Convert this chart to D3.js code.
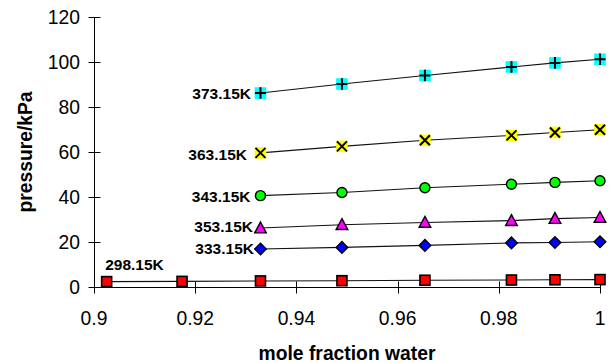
<!DOCTYPE html>
<html>
<head>
<meta charset="utf-8">
<script src="https://cdn.jsdelivr.net/npm/d3@7"></script>
<style>
  html, body { margin: 0; padding: 0; background: #fff; }
  svg { display: block; font-family: "Liberation Sans", Arial, sans-serif; }
</style>
</head>
<body>
<svg id="chart" width="616" height="363"></svg>
<script>
// Vapour pressure vs mole fraction of water at several temperatures
const moleFraction = [0.9025, 0.9174, 0.9329, 0.9490, 0.9654, 0.9825, 0.9911, 1.0];
const moleFractionHot = moleFraction.slice(2);

const p298 = [2.4, 2.5, 2.7, 2.8, 3.0, 3.1, 3.2, 3.3];
const p333 = [16.9, 17.6, 18.5, 19.6, 19.8, 20.1];
const p353 = [26.2, 27.7, 28.7, 29.5, 30.4, 30.9];
const p343 = [40.6, 42.0, 44.1, 45.7, 46.5, 47.2];
const p363 = [59.6, 62.5, 65.2, 67.4, 68.7, 69.9];
const p373 = [86.2, 90.2, 94.0, 97.8, 99.6, 101.2];

const seriesLabels = ["298.15K", "333.15K", "353.15K", "343.15K", "363.15K", "373.15K"];

const xTicks = [0.9, 0.92, 0.94, 0.96, 0.98, 1];
const yTicks = [0, 20, 40, 60, 80, 100, 120];

const series = [
  { label: seriesLabels[0], x: moleFraction,    y: p298, marker: "square",   fill: "#ff0000" },
  { label: seriesLabels[1], x: moleFractionHot, y: p333, marker: "diamond",  fill: "#0000ff" },
  { label: seriesLabels[2], x: moleFractionHot, y: p353, marker: "triangle", fill: "#ff00ff" },
  { label: seriesLabels[3], x: moleFractionHot, y: p343, marker: "circle",   fill: "#00ff00" },
  { label: seriesLabels[4], x: moleFractionHot, y: p363, marker: "cross",    fill: "#ffff00" },
  { label: seriesLabels[5], x: moleFractionHot, y: p373, marker: "plus",     fill: "#00ffff" }
];

// label placement relative to the first point of each series
const labelPlacement = {
  "298.15K": { anchor: "start", dx: -1.5, dy: -17 },
  "333.15K": { anchor: "end",   dx: -6.5, dy: 0 },
  "353.15K": { anchor: "end",   dx: -7.5, dy: -1.5 },
  "343.15K": { anchor: "end",   dx: -10,  dy: 1.3 },
  "363.15K": { anchor: "end",   dx: -13.5, dy: 1.7 },
  "373.15K": { anchor: "end",   dx: -9.5, dy: 0 }
};

const svg = d3.select("#chart");

const x = d3.scaleLinear().domain([0.9, 1]).range([94, 600]);
const y = d3.scaleLinear().domain([0, 120]).range([287, 17]);

const axisColor = "#000";

// y axis with ticks crossing the line
const yAxis = svg.append("g").attr("transform", "translate(94.5,0)");
yAxis.append("line")
  .attr("x1", 0).attr("x2", 0)
  .attr("y1", y(120)).attr("y2", y(0))
  .attr("stroke", axisColor).attr("stroke-width", 1);
yAxis.selectAll("line.tick").data(yTicks).join("line")
  .attr("class", "tick")
  .attr("x1", -6).attr("x2", 6)
  .attr("y1", d => Math.round(y(d)) + 0.5).attr("y2", d => Math.round(y(d)) + 0.5)
  .attr("stroke", axisColor).attr("stroke-width", 1);
yAxis.selectAll("text").data(yTicks).join("text")
  .attr("x", -14.5)
  .attr("y", d => y(d) + 6.8)
  .attr("text-anchor", "end")
  .attr("font-size", "19.3px")
  .attr("fill", "#000")
  .text(d => d3.format("d")(d));

// x axis along zero pressure
const xAxis = svg.append("g").attr("transform", `translate(0,${Math.round(y(0)) + 0.5})`);
xAxis.append("line")
  .attr("x1", x(0.9)).attr("x2", x(1))
  .attr("y1", 0).attr("y2", 0)
  .attr("stroke", axisColor).attr("stroke-width", 1);
xAxis.selectAll("line.tick").data(xTicks).join("line")
  .attr("class", "tick")
  .attr("x1", d => Math.round(x(d)) + 0.5).attr("x2", d => Math.round(x(d)) + 0.5)
  .attr("y1", -6).attr("y2", 6)
  .attr("stroke", axisColor).attr("stroke-width", 1);
xAxis.selectAll("text").data(xTicks).join("text")
  .attr("x", d => x(d))
  .attr("y", 37)
  .attr("text-anchor", "middle")
  .attr("font-size", "19.3px")
  .attr("fill", "#000")
  .text(d => d === 1 ? "1" : d3.format(".2~f")(d));

// axis titles
svg.append("text")
  .attr("x", (x(0.9) + x(1)) / 2)
  .attr("y", 360)
  .attr("text-anchor", "middle")
  .attr("font-size", "19.3px")
  .attr("font-weight", "bold")
  .attr("fill", "#000")
  .text("mole fraction water");

svg.append("text")
  .attr("transform", `translate(31.5,${(y(0) + y(120)) / 2}) rotate(-90)`)
  .attr("text-anchor", "middle")
  .attr("font-size", "19.3px")
  .attr("font-weight", "bold")
  .attr("fill", "#000")
  .text("pressure/kPa");

// series lines
const line = d3.line().x(d => x(d[0])).y(d => y(d[1]));
const plot = svg.append("g");

series.forEach(s => {
  const pts = s.x.map((v, i) => [v, s.y[i]]);
  plot.append("path")
    .datum(pts)
    .attr("d", line)
    .attr("fill", "none")
    .attr("stroke", "#111")
    .attr("stroke-width", 1.1);
});

// markers
function drawMarker(g, type, fill) {
  switch (type) {
    case "square":
      g.append("rect").attr("x", -5).attr("y", -5).attr("width", 10).attr("height", 10)
        .attr("fill", fill).attr("stroke", "#000").attr("stroke-width", 1.6);
      break;
    case "diamond":
      g.append("path").attr("d", "M0,-5.8L5.8,0L0,5.8L-5.8,0Z")
        .attr("fill", fill).attr("stroke", "#000").attr("stroke-width", 1.4);
      break;
    case "triangle":
      g.append("path").attr("d", "M0,-6L5.8,4.8L-5.8,4.8Z")
        .attr("fill", fill).attr("stroke", "#000").attr("stroke-width", 1.4);
      break;
    case "circle":
      g.append("circle").attr("r", 5)
        .attr("fill", fill).attr("stroke", "#000").attr("stroke-width", 1.4);
      break;
    case "cross":
      g.append("rect").attr("x", -5.8).attr("y", -5.8).attr("width", 11.6).attr("height", 11.6)
        .attr("fill", fill);
      g.append("path").attr("d", "M-5,-5L5,5M5,-5L-5,5")
        .attr("stroke", "#000").attr("stroke-width", 2);
      break;
    case "plus":
      g.append("rect").attr("x", -5.8).attr("y", -5.8).attr("width", 11.6).attr("height", 11.6)
        .attr("fill", fill);
      g.append("path").attr("d", "M-5.5,0L5.5,0M0,-5.8L0,5.8")
        .attr("stroke", "#000").attr("stroke-width", 2);
      break;
  }
}

series.forEach(s => {
  s.x.forEach((v, i) => {
    const g = plot.append("g").attr("transform", `translate(${x(v)},${y(s.y[i])})`);
    drawMarker(g, s.marker, s.fill);
  });
});

// temperature labels beside the first point of each series
series.forEach(s => {
  const p = labelPlacement[s.label];
  plot.append("text")
    .attr("x", x(s.x[0]) + p.dx)
    .attr("y", y(s.y[0]) + p.dy + 5.5)
    .attr("text-anchor", p.anchor)
    .attr("font-size", "15.5px")
    .attr("font-weight", "bold")
    .attr("fill", "#000")
    .text(s.label);
});
</script>
</body>
</html>
